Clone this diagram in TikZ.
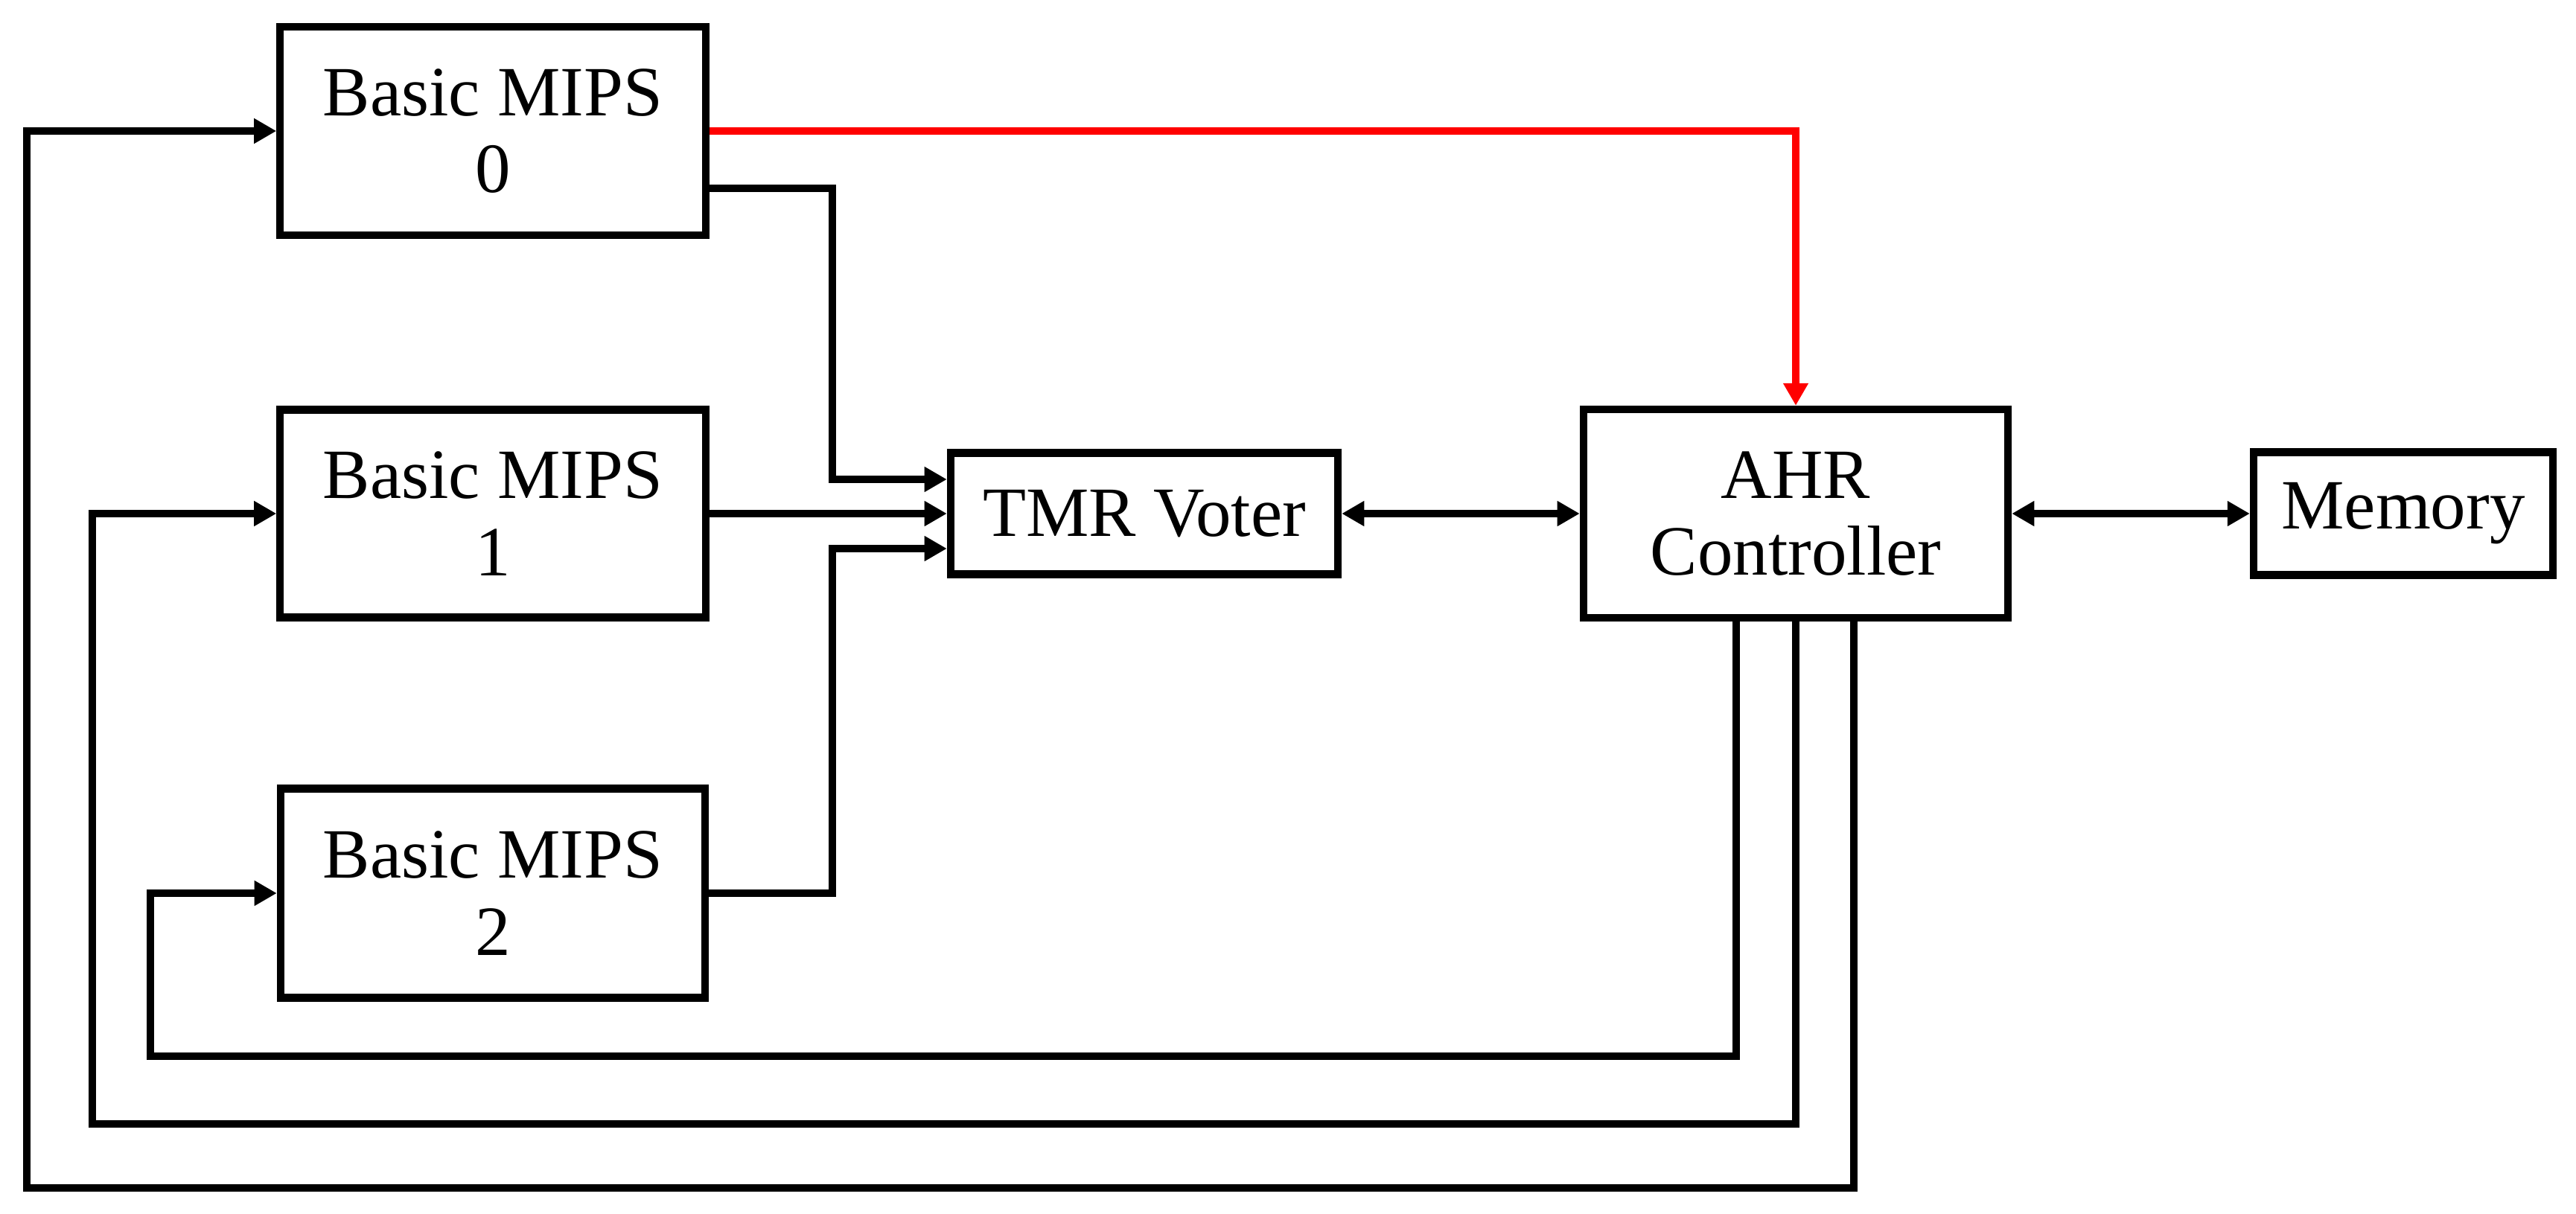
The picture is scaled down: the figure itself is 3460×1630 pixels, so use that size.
\documentclass[tikz,border=0pt]{standalone}
\usepackage{fontspec}
\setmainfont{Liberation Serif}
\usetikzlibrary{arrows.meta,calc}
\begin{document}
\begin{tikzpicture}[x=0.01cm,y=-0.01cm,
  blk/.style={draw=black,line width=2.9pt,fill=white,align=center,inner sep=0pt,
    font=\fontsize{27}{29.5}\selectfont},
  tip/.style={},
  conn/.style={line width=2.7pt,draw=black,-{Triangle[length=0.3cm,width=0.32cm]}},
  biconn/.style={line width=2.7pt,draw=black,{Triangle[length=0.3cm,width=0.32cm]}-{Triangle[length=0.3cm,width=0.32cm]}},
  redconn/.style={line width=2.7pt,draw={rgb,255:red,255;green,0;blue,0},-{Triangle[length=0.3cm,width=0.32cm]}}]
\useasboundingbox (0,0) rectangle (3460,1630);
\node[blk,minimum width=5.71cm,minimum height=2.80cm] (b0) at (662,176) {Basic MIPS\\0};
\node[blk,minimum width=5.71cm,minimum height=2.79cm] (b1) at (662,690) {Basic MIPS\\1};
\node[blk,minimum width=5.70cm,minimum height=2.81cm] (b2) at (662,1200) {Basic MIPS\\2};
\node[blk,minimum width=5.20cm,minimum height=1.63cm] (tmr) at (1537,690) {TMR Voter};
\node[blk,minimum width=5.70cm,minimum height=2.80cm] (ahr) at (2412,690) {AHR\\Controller};
\node[blk,minimum width=4.02cm,minimum height=1.65cm] (mem) at (3228,690) {Memory};
\coordinate (j0) at (1118,253);
\coordinate (j2) at (1118,1200);
\coordinate (l2) at (202,1419);
\coordinate (l1) at (124,1510);
\coordinate (l0) at (36,1596);
% MIPS to voter
\draw[conn] ($(b0.east)+(0,77)$) -- (j0) |- ($(tmr.west)+(0,-46)$);
\draw[conn] (b1.east) -- (tmr.west);
\draw[conn] (b2.east) -- (j2) |- ($(tmr.west)+(0,47)$);
% voter <-> AHR <-> memory
\draw[biconn] (tmr.east) -- (ahr.west);
\draw[biconn] (ahr.east) -- (mem.west);
% red line
\draw[redconn] (b0.east) -| (ahr.north);
% feedback loops
\draw[conn] ($(ahr.south)+(-80,0)$) |- (l2) |- (b2.west);
\draw[conn] (ahr.south) |- (l1) |- (b1.west);
\draw[conn] ($(ahr.south)+(78,0)$) |- (l0) |- (b0.west);
\end{tikzpicture}
\end{document}
